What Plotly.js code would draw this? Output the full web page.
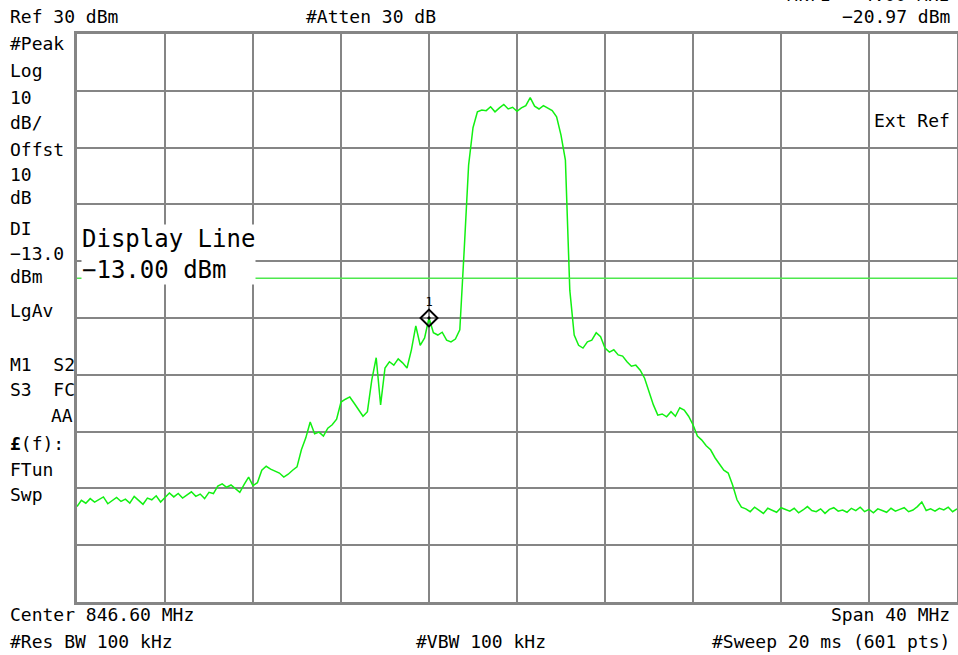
<!DOCTYPE html>
<html>
<head>
<meta charset="utf-8">
<script src="https://cdn.plot.ly/plotly-3.0.1.min.js"></script>
<style>
  html, body { margin: 0; padding: 0; background: #ffffff; }
  #chart { width: 958px; height: 655px; }
</style>
</head>
<body>
<div id="chart"></div>
<script>
// ---- Data ----
const START_MHZ = 826.6;      // Center 846.60 MHz - 20 MHz
const STOP_MHZ = 866.6;       // Center 846.60 MHz + 20 MHz
const STEP_MHZ = 0.2;         // sampling of the trace
const REF_LEVEL = 30;         // Ref 30 dBm
const BOTTOM_LEVEL = -70;     // 10 dB/div, 10 divisions
const DISPLAY_LINE = -13;     // Display Line -13.00 dBm

// trace levels (dBm), one per STEP_MHZ starting at START_MHZ
const levels = [
  -53.2, -52.1, -52.6, -51.8, -52.4, -52.0, -51.5, -52.7, -52.2, -51.6, -52.3, -51.9, -52.6, -51.4, -52.1, -52.8, -51.7, -52.0, -51.3, -52.4, -51.6,
  -50.8, -51.5, -50.9, -51.7, -51.2, -50.6, -51.4, -51.0, -51.8, -50.7,
  -50.9, -49.6, -49.2, -49.8, -49.4, -50.0, -50.7, -49.3, -48.0, -49.5, -49.0,
  -46.8, -46.1, -46.6, -46.9, -47.3, -48.0, -47.5, -46.8, -46.2,
  -43.2, -41.1, -38.3, -40.4, -40.1, -40.8, -39.4, -38.8, -37.8,
  -34.8, -34.3, -33.9, -35.0, -36.2, -37.3, -36.5, -30.9, -27.0, -35.3,
  -28.8, -27.7, -28.3, -27.2, -27.9, -28.8, -25.6, -21.4, -24.8, -23.5,
  -20.0, -22.6, -23.0, -22.5, -23.9, -24.2, -23.7, -22.1, -8.0, 6.9,
  13.5, 16.3, 16.6, 16.5, 17.2, 16.3, 17.0, 17.6, 16.8, 17.1,
  16.4, 17.0, 17.4, 18.8, 17.3, 16.8, 17.4, 16.9, 16.5, 15.4,
  12.2, 7.8, -15.1, -23.0, -24.8, -25.3, -24.2, -23.9, -22.6, -23.3,
  -25.3, -26.0, -25.6, -26.5, -26.7, -27.7, -28.5, -28.3, -29.2, -30.6,
  -33.0, -35.3, -37.1, -36.9, -37.4, -36.5, -37.3, -35.8, -36.2, -37.3,
  -38.8, -40.8, -41.5, -42.5, -43.2, -44.6, -45.7, -46.8, -47.3, -49.4, -52.0, -53.3,
  -53.6, -54.1, -53.3, -53.9, -54.4, -53.5, -53.8, -54.2, -53.4, -53.7,
  -54.0, -53.5, -54.3, -53.8, -53.2, -53.9, -54.1, -53.6, -54.4, -53.7,
  -53.4, -54.0, -53.8, -54.2, -53.5, -53.9, -53.3, -54.1, -53.7, -54.3,
  -53.6, -53.9, -54.2, -53.5, -54.0, -53.7, -53.4, -54.1, -53.8, -53.2,
  -52.4, -53.9, -53.6, -54.0, -53.5, -53.8, -53.3, -54.1, -53.6
];

// marker 1
const markerFreq = [842.6];
const markerLevel = [-20.0];
const markerLabel = ['1'];

// ---- Screen texts ----
const leftLabels = ['#Peak', 'Log', '10', 'dB/', 'Offst', '10', 'dB', 'DI', '−13.0', 'dBm', 'LgAv', 'M1  S2', 'S3  FC', '<b>£</b>(f):', 'FTun', 'Swp'];

// ---- layout helpers (pixel -> paper) ----
const W = 958, H = 655;
const M = { l: 77, r: 1, t: 34, b: 53 };
const PW = W - M.l - M.r, PH = H - M.t - M.b;
function px(x) { return (x - M.l) / PW; }
function py(y) { return (H - M.b - y) / PH; }
const FONT = 'DejaVu Sans Mono, Liberation Mono, monospace';
function txt(text, x, y, xanchor, size, extra) {
  return Object.assign({
    text: text, xref: 'paper', yref: 'paper', x: px(x), y: py(y),
    xanchor: xanchor, yanchor: 'middle', showarrow: false,
    font: { family: FONT, size: size || 18, color: '#000000' }
  }, extra || {});
}

const leftY = [44, 71, 97, 123, 150, 174, 198, 228, 253, 276, 310, 364, 389, 443, 469, 494];
const annotations = [];
leftLabels.forEach((t, i) => annotations.push(txt(t, 8, leftY[i], 'left', 18)));
annotations.push(txt('AA', 75, 415, 'right', 18));
annotations.push(txt('Ref 30 dBm', 8, 17, 'left', 18));
annotations.push(txt('#Atten 30 dB', 304, 17, 'left', 18));
annotations.push(txt('−20.97 dBm', 952, 17, 'right', 18));
annotations.push(txt('Mkr1  −4.00 MHz', 952, -6, 'right', 18));
annotations.push(txt('Ext Ref', 952, 121, 'right', 18));
annotations.push(txt('Center 846.60 MHz', 8, 614, 'left', 18));
annotations.push(txt('Span 40 MHz', 952, 614, 'right', 18));
annotations.push(txt('#Res BW 100 kHz', 8, 641, 'left', 18));
annotations.push(txt('#VBW 100 kHz', 414, 641, 'left', 18));
annotations.push(txt('#Sweep 20 ms (601 pts)', 952, 641, 'right', 18));
annotations.push(txt('Display Line<br>−13.00 dBm', 81, 254, 'left', 24,
  { align: 'left', bgcolor: '#ffffff', borderpad: 0 }));

const traces = [
  {
    type: 'scatter', mode: 'lines',
    x0: START_MHZ, dx: STEP_MHZ, y: levels,
    line: { color: '#12f012', width: 1.5 },
    hoverinfo: 'skip'
  },
  {
    type: 'scatter', mode: 'markers+text',
    x: markerFreq, y: markerLevel, text: markerLabel,
    textposition: 'top center',
    textfont: { family: FONT, size: 12, color: '#000000' },
    marker: { symbol: 'diamond-open-dot', size: 13, color: '#000000', line: { width: 2, color: '#000000' } },
    cliponaxis: false, hoverinfo: 'skip'
  }
];

const gridColor = '#858585';
const layout = {
  width: W, height: H,
  margin: M,
  paper_bgcolor: '#ffffff', plot_bgcolor: '#ffffff',
  showlegend: false,
  xaxis: {
    range: [START_MHZ, STOP_MHZ], tick0: START_MHZ, dtick: 4, tickmode: 'linear',
    showticklabels: false, ticks: '', showgrid: true, gridcolor: gridColor, gridwidth: 2,
    zeroline: false, showline: true, mirror: true, linecolor: gridColor, linewidth: 3
  },
  yaxis: {
    range: [BOTTOM_LEVEL, REF_LEVEL], tick0: BOTTOM_LEVEL, dtick: 10, tickmode: 'linear',
    showticklabels: false, ticks: '', showgrid: true, gridcolor: gridColor, gridwidth: 2,
    zeroline: false, showline: true, mirror: true, linecolor: gridColor, linewidth: 3
  },
  shapes: [
    { type: 'line', xref: 'paper', x0: 0, x1: 1, yref: 'y', y0: DISPLAY_LINE, y1: DISPLAY_LINE,
      line: { color: '#4ee84e', width: 1.5 }, layer: 'above' }
  ],
  annotations: annotations
};

Plotly.newPlot('chart', traces, layout, { staticPlot: true, displayModeBar: false });
</script>
</body>
</html>
